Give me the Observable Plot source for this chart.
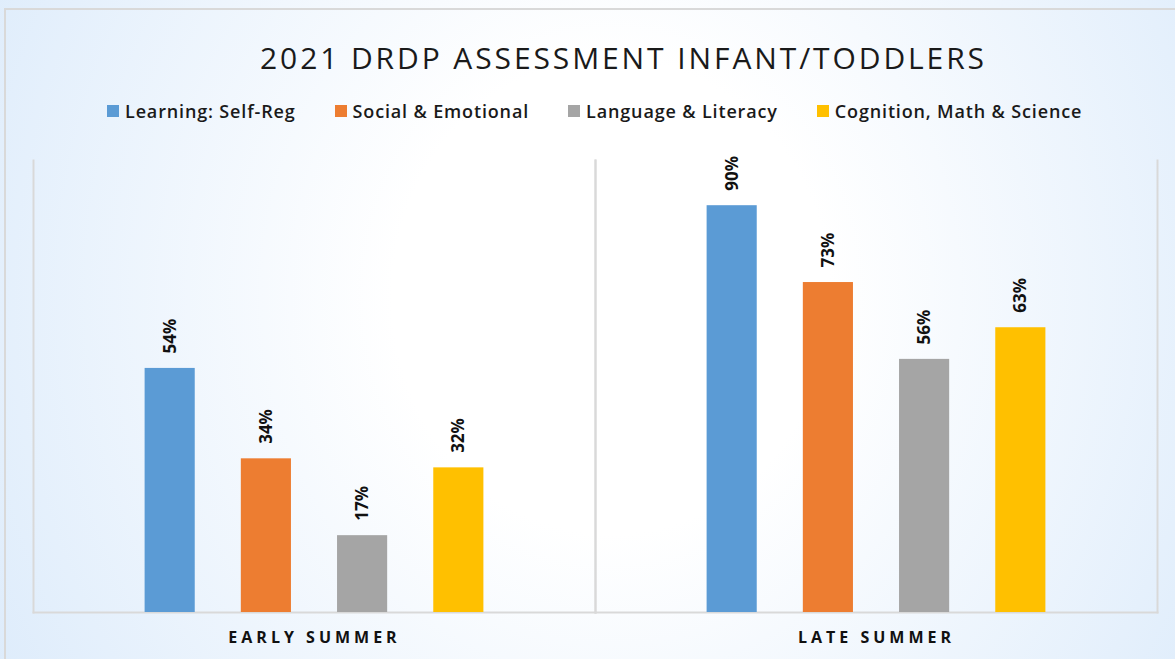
<!DOCTYPE html>
<html>
<head>
<meta charset="utf-8">
<script src="https://cdn.jsdelivr.net/npm/d3@7"></script>
<script src="https://cdn.jsdelivr.net/npm/@observablehq/plot@0.6"></script>
<style>
  html, body { margin: 0; padding: 0; }
  #wrap {
    position: relative; width: 1175px; height: 659px; overflow: hidden;
    background: radial-gradient(ellipse 62% 120% at 52% 45%, #ffffff 30%, #dcebfb 100%);
    font-family: "Open Sans", sans-serif;
  }
  #frame {
    position: absolute; left: 4px; top: 8px; width: 1180px; height: 670px;
    border: 2px solid #d9d9d9; box-sizing: border-box; pointer-events: none;
  }
  #title {
    position: absolute; top: 36px; left: 0; width: 1175px; padding-left: 72px; box-sizing: border-box;
    text-align: center; font-size: 30px; font-weight: 400; color: #1a1a1a; letter-spacing: 2.9px;
    line-height: 44px;
  }
  #legend {
    position: absolute; top: 97px; left: 107px; display: flex; align-items: center;
    font-size: 18px; font-weight: 600; color: #1a1a1a; line-height: 28px; letter-spacing: 0.85px;
  }
  .item { display: flex; align-items: center; margin-right: 39px; }
  .sw { width: 12px; height: 12px; margin-right: 6px; }
  #chart { position: absolute; left: 0; top: 130px; }
  [aria-label="fx-axis tick label"] text { letter-spacing: 4px; }
</style>
</head>
<body>
<div id="wrap">
  <div id="title"></div>
  <div id="legend"></div>
  <div id="chart"></div>
  <div id="frame"></div>
</div>
<script>
const titleText = "2021 DRDP ASSESSMENT INFANT/TODDLERS";
const groups = ["EARLY SUMMER", "LATE SUMMER"];
const series = ["Learning: Self-Reg", "Social & Emotional", "Language & Literacy", "Cognition, Math & Science"];
const earlySummer = [54, 34, 17, 32];
const lateSummer = [90, 73, 56, 63];
const colors = ["#5B9BD5", "#ED7D31", "#A5A5A5", "#FFC000"];

const data = [];
series.forEach((s, i) => data.push({group: groups[0], series: s, value: earlySummer[i]}));
series.forEach((s, i) => data.push({group: groups[1], series: s, value: lateSummer[i]}));

document.getElementById("title").textContent = titleText;
const legend = document.getElementById("legend");
series.forEach((s, i) => {
  const it = document.createElement("div");
  it.className = "item";
  const sw = document.createElement("span");
  sw.className = "sw";
  sw.style.background = colors[i];
  const t = document.createElement("span");
  t.textContent = s;
  it.appendChild(sw); it.appendChild(t);
  legend.appendChild(it);
});

const lineStyle = {stroke: "#d9d9d9", strokeWidth: 2};
const chart = Plot.plot({
  width: 1175,
  height: 529,
  marginTop: 30,
  marginBottom: 47,
  marginLeft: 33,
  marginRight: 18,
  style: {background: "transparent", fontFamily: "Open Sans, sans-serif", color: "#111", overflow: "visible"},
  fx: {domain: groups, padding: 0, label: null},
  x: {domain: series, paddingInner: 0.479, paddingOuter: 1.16, round: false, axis: null},
  y: {domain: [0, 100], axis: null},
  color: {domain: series, range: colors},
  marks: [
    Plot.frame({anchor: "left", ...lineStyle}),
    Plot.frame({anchor: "right", ...lineStyle}),
    Plot.frame({anchor: "bottom", ...lineStyle}),
    Plot.barY(data, {fx: "group", x: "series", y: "value", fill: "series"}),
    Plot.text(data, {
      fx: "group", x: "series", y: "value",
      text: d => d.value + "%",
      rotate: -90, textAnchor: "start", dy: -15,
      fontSize: 17, fontWeight: "bold", fill: "#111"
    }),
    Plot.axisFx({anchor: "bottom", tickSize: 0, tickPadding: 19, fontSize: 16, fontWeight: "bold", label: null})
  ]
});
document.getElementById("chart").appendChild(chart);
</script>
</body>
</html>
